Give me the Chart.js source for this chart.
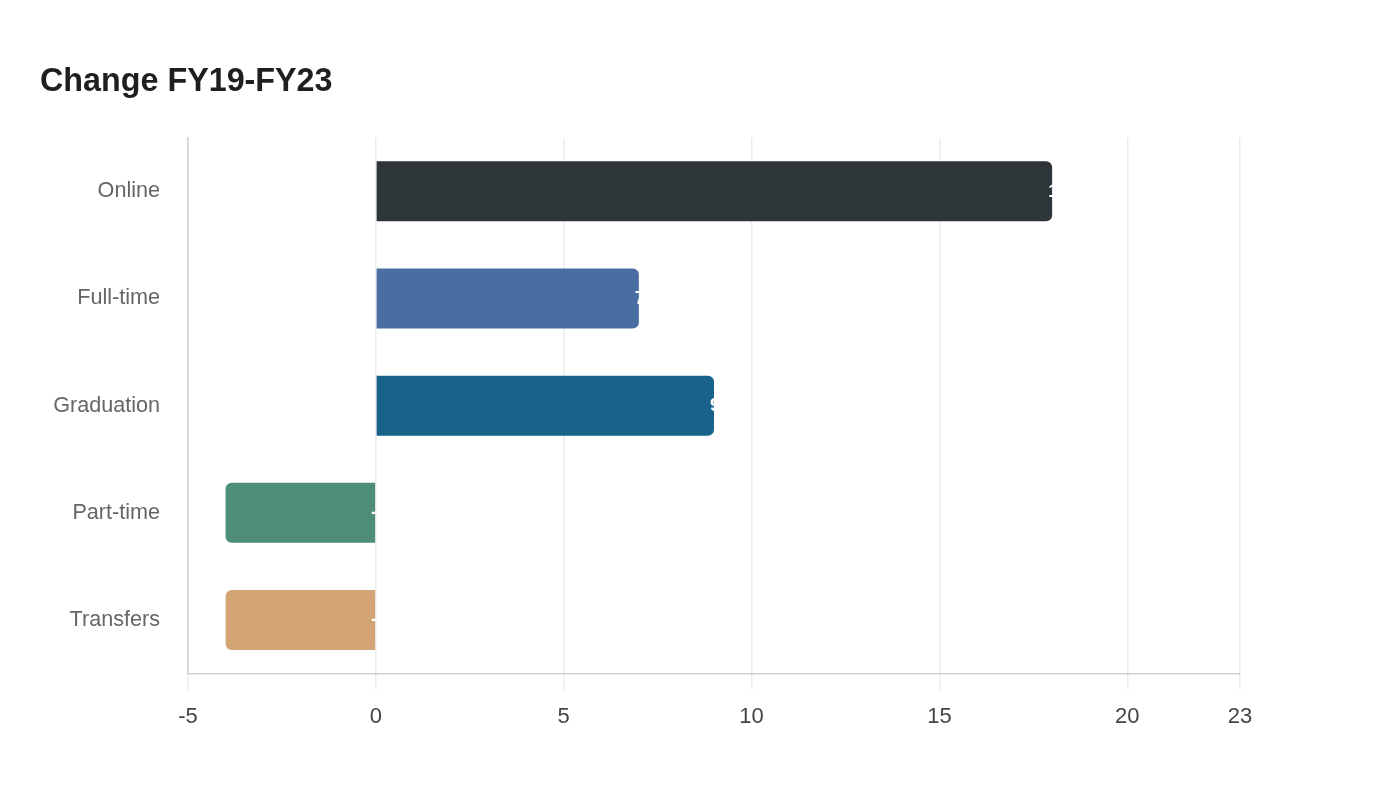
<!DOCTYPE html>
<html>
<head>
<meta charset="utf-8">
<script src="https://cdn.jsdelivr.net/npm/chart.js@4.4.0/dist/chart.umd.min.js"></script>
<style>
  html, body { margin: 0; padding: 0; background: #ffffff; }
  #wrap { width: 1400px; height: 800px; position: relative; }
</style>
</head>
<body>
<div id="wrap"><canvas id="c" width="1400" height="800"></canvas></div>
<script>
const categories = ["Online", "Full-time", "Graduation", "Part-time", "Transfers"];
const changeValues = [18, 7, 9, -4, -4];
const barColors = ["#2e3538", "#4a6ea4", "#196289", "#4f8d7b", "#d3a574"];
const titleText = "Change FY19-FY23";
const xMin = -5, xMax = 23, xStep = 5;

const FONT = "'Liberation Sans', Arial, Helvetica, sans-serif";

const valueLabelPlugin = {
  id: 'valueLabels',
  afterDatasetsDraw(chart) {
    const ctx = chart.ctx;
    const meta = chart.getDatasetMeta(0);
    ctx.save();
    ctx.font = "bold 19px " + FONT;
    ctx.fillStyle = "#ffffff";
    ctx.textAlign = "left";
    ctx.textBaseline = "middle";
    meta.data.forEach((bar, i) => {
      const right = Math.max(bar.x, bar.base);
      ctx.fillText(String(changeValues[i]), right - 4, bar.y);
    });
    ctx.restore();
  }
};

new Chart(document.getElementById('c'), {
  type: 'bar',
  data: {
    labels: categories,
    datasets: [{
      data: changeValues,
      backgroundColor: barColors,
      borderRadius: 6,
      borderSkipped: 'start',
      categoryPercentage: 0.8,
      barPercentage: 0.7
    }]
  },
  options: {
    indexAxis: 'y',
    responsive: false,
    animation: false,
    devicePixelRatio: 1,
    layout: { padding: { left: 40, right: 160, top: 40, bottom: 56 } },
    plugins: {
      legend: { display: false },
      tooltip: { enabled: false },
      title: {
        display: true,
        text: titleText,
        align: 'start',
        color: '#1f1f1f',
        font: { family: FONT, size: 32.3, weight: 'bold' },
        padding: { top: 23, bottom: 36 }
      }
    },
    scales: {
      x: {
        type: 'linear',
        min: xMin,
        max: xMax,
        ticks: {
          stepSize: xStep,
          color: '#444444',
          font: { family: FONT, size: 22 },
          padding: 14
        },
        grid: { color: '#ececec', lineWidth: 1.5, tickLength: 16 },
        border: { color: '#d0d0d0', width: 1.5 }
      },
      y: {
        afterFit(scale) { scale.width = 148; },
        ticks: {
          color: '#666666',
          font: { family: FONT, size: 21.6 },
          padding: 28
        },
        grid: { display: true, drawOnChartArea: false, drawTicks: false },
        border: { color: '#d0d0d0', width: 1.5 }
      }
    }
  },
  plugins: [valueLabelPlugin]
});
</script>
</body>
</html>
